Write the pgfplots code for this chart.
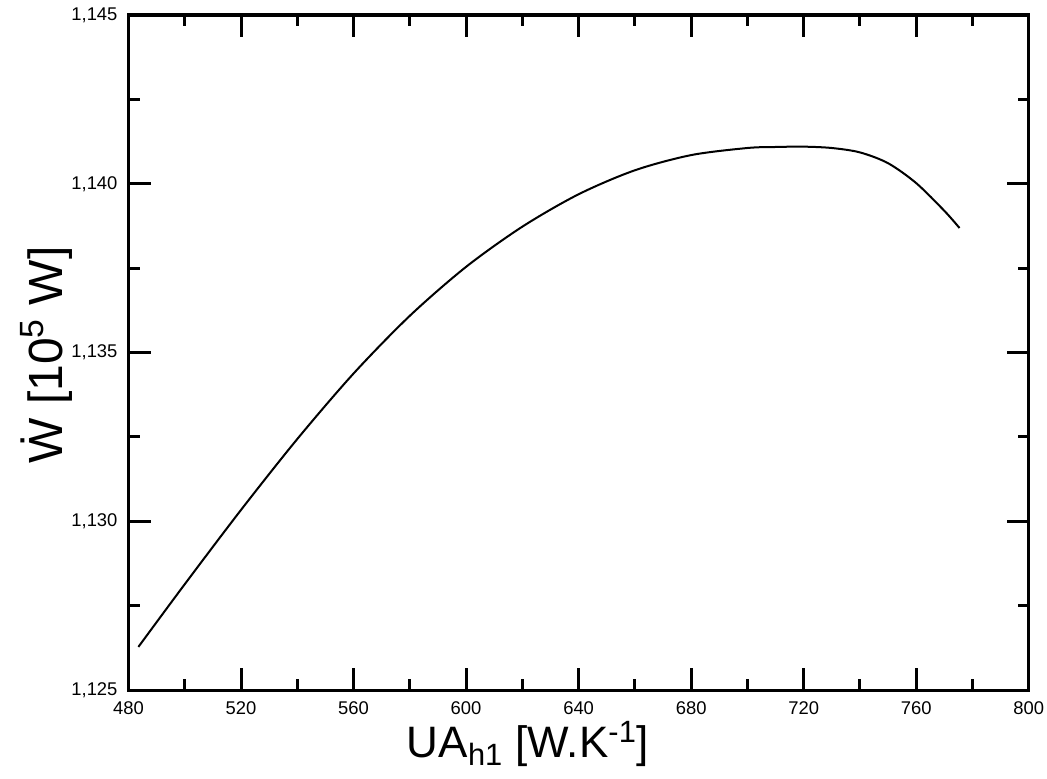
\documentclass[border=0pt]{standalone}
\usepackage{fontspec}
\setmainfont{Liberation Sans}
\usepackage{pgfplots}
\pgfplotsset{compat=1.18}

\begin{document}
\begin{tikzpicture}
\begin{axis}[
  scale only axis,
  width=450pt, height=337.5pt,
  at={(0,0)}, anchor=south west,
  xmin=480, xmax=800,
  ymin=1.125, ymax=1.145,
  xtick={480,520,560,600,640,680,720,760,800},
  ytick={1.125,1.130,1.135,1.140,1.145},
  minor x tick num=1,
  minor y tick num=1,
  tick align=inside,
  major tick length=11pt,
  minor tick length=5.5pt,
  axis line style={line width=1.6pt},
  every tick/.style={black, line width=1.5pt},
  scaled x ticks=false,
  scaled y ticks=false,
  ticklabel style={font=\fontsize{9.2}{11}\selectfont},
  xticklabel style={yshift=-2pt, /pgf/number format/.cd, assume math mode=true, 1000 sep={}},
  yticklabel style={xshift=-2pt, /pgf/number format/.cd, assume math mode=true,
    fixed, fixed zerofill, precision=3, use comma, 1000 sep={}},
  xlabel={UA\textsubscript{h1} [W.K\textsuperscript{-1}]},
  xlabel style={font=\fontsize{22}{26}\selectfont,
    at={(axis description cs:0.4438,0)}, anchor=base, yshift=-33.5pt},
  ylabel={\.{W} [10\textsuperscript{5} W]},
  ylabel style={font=\fontsize{24}{28}\selectfont,
    at={(axis description cs:0,0.4963)}, anchor=base, yshift=33.25pt},
]
% net power output against the conductance of heat exchanger h1
\addplot[black, line width=1pt, smooth] coordinates {
  (483.5,1.12628) (500,1.12814) (520,1.13034) (540,1.13244)
  (560,1.13438) (580,1.13609) (600,1.13754) (620,1.13873)
  (640,1.13969) (660,1.14040) (680,1.14085) (700,1.14106)
  (710,1.14109) (720,1.14110) (730,1.14106) (740,1.14093)
  (750,1.14061) (760,1.14002) (770,1.13920) (775.4,1.13869)
};
\end{axis}
\pgfresetboundingbox
\path[use as bounding box] (-64.25pt,-44pt) rectangle (459.15pt,345pt);
\end{tikzpicture}
\end{document}
